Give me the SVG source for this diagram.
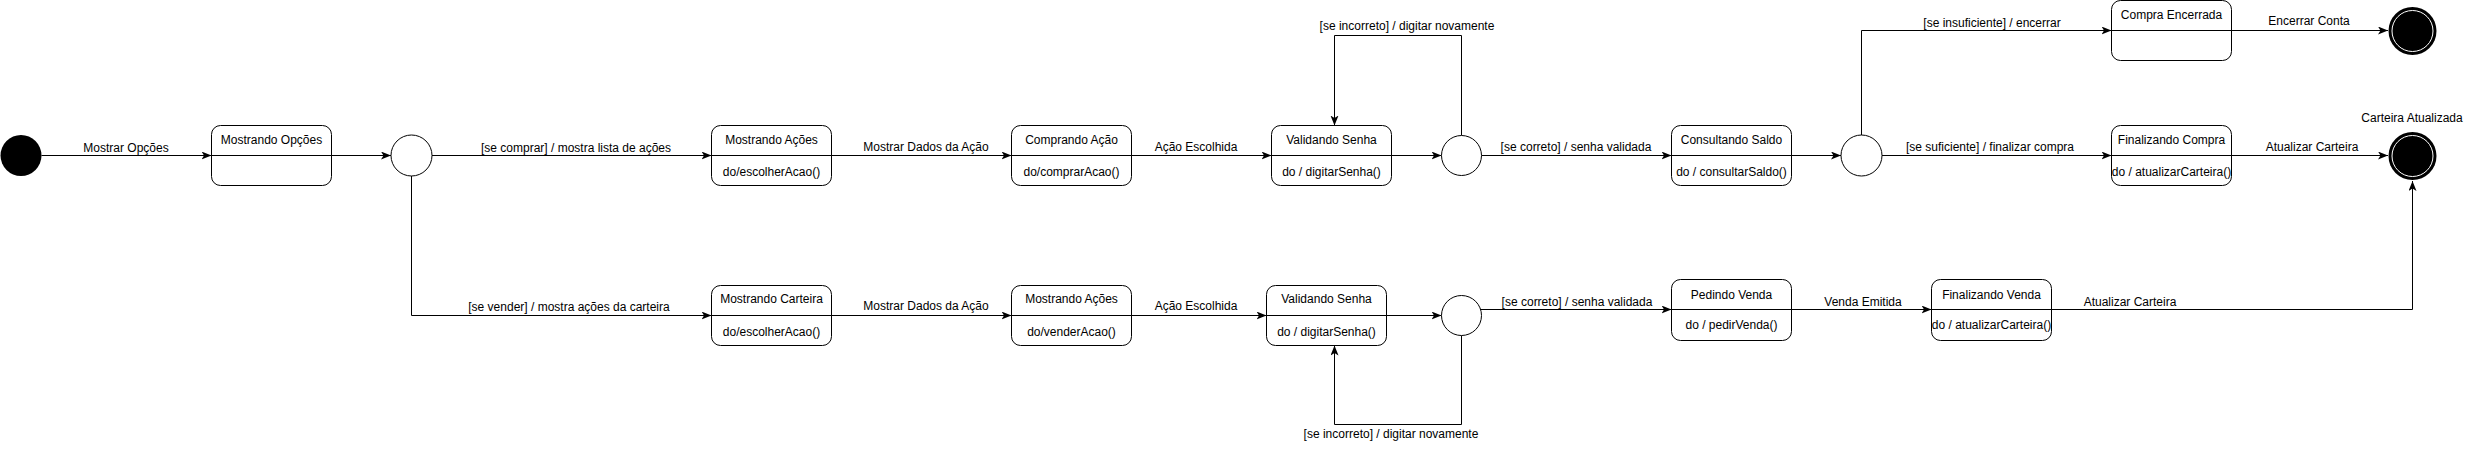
<svg xmlns="http://www.w3.org/2000/svg" width="2479" height="450" viewBox="0 0 2479 450">
<style>
.st{fill:#fff;stroke:#000;stroke-width:1}
.dv{stroke:#000;stroke-width:1;fill:none}
.e{fill:none;stroke:#000;stroke-width:1;marker-end:url(#ar)}
text{font-family:"Liberation Sans",Arial,sans-serif;font-size:12px;fill:#000;text-anchor:middle}
.dc{fill:#fff;stroke:#000;stroke-width:1}
</style>
<defs>
<marker id="ar" markerUnits="userSpaceOnUse" markerWidth="12" markerHeight="10" refX="10" refY="4" orient="auto">
<path d="M0,0 L10,4 L0,8 L2.5,4 z" fill="#000"/>
</marker>
</defs>
<rect width="2479" height="450" fill="#fff"/>
<g id="connectors">
<path class="e" d="M41.5,155.5 H211.5"/>
<text x="126" y="152">Mostrar Opções</text>
<path class="e" d="M331.5,155.5 H391"/>
<path class="e" d="M432,155.5 H711.5"/>
<text x="576" y="152">[se comprar] / mostra lista de ações</text>
<path class="e" d="M411.5,176 V315.5 H711.5"/>
<text x="569" y="311">[se vender] / mostra ações da carteira</text>
<path class="e" d="M831.5,155.5 H1011.5"/>
<text x="926" y="151">Mostrar Dados da Ação</text>
<path class="e" d="M1131.5,155.5 H1271.5"/>
<text x="1196" y="151">Ação Escolhida</text>
<path class="e" d="M1391.5,155.5 H1441.5"/>
<path class="e" d="M1461.5,135.5 V35.5 H1334.5 V125.5"/>
<text x="1407" y="30">[se incorreto] / digitar novamente</text>
<path class="e" d="M1481.5,155.5 H1671.5"/>
<text x="1576" y="151">[se correto] / senha validada</text>
<path class="e" d="M1791.5,155.5 H1841"/>
<path class="e" d="M1861.5,135 V30.5 H2111.5"/>
<text x="1992" y="27">[se insuficiente] / encerrar</text>
<path class="e" d="M1882,155.5 H2111.5"/>
<text x="1990" y="151">[se suficiente] / finalizar compra</text>
<path class="e" d="M2231.5,30.5 H2388"/>
<text x="2309" y="25">Encerrar Conta</text>
<path class="e" d="M2231.5,155.5 H2388"/>
<text x="2312" y="151">Atualizar Carteira</text>
<path class="e" d="M831.5,315.5 H1011.5"/>
<text x="926" y="310">Mostrar Dados da Ação</text>
<path class="e" d="M1131.5,315.5 H1266.5"/>
<text x="1196" y="310">Ação Escolhida</text>
<path class="e" d="M1386.5,315.5 H1441.5"/>
<path class="e" d="M1461.5,335.5 V424.5 H1334.5 V345.5"/>
<text x="1391" y="438">[se incorreto] / digitar novamente</text>
<path class="e" d="M1481,309.5 H1671.5"/>
<text x="1577" y="306">[se correto] / senha validada</text>
<path class="e" d="M1791.5,309.5 H1931.5"/>
<text x="1863" y="306">Venda Emitida</text>
<path class="e" d="M2051.5,309.5 H2412.5 V181"/>
<text x="2130" y="306">Atualizar Carteira</text>
</g>
<g id="inicio"><circle cx="21" cy="155.5" r="20.5" fill="#000"/></g>
<g id="mostrandoOpcoes">
<rect class="st" x="211.5" y="125.5" width="120" height="60" rx="9"/>
<path class="dv" d="M211.5,155.5 H331.5"/>
<text x="271.5" y="144">Mostrando Opções</text>
</g>
<g id="decisao1"><circle class="dc" cx="411.5" cy="155.5" r="20.5"/></g>
<g id="mostrandoAcoes">
<rect class="st" x="711.5" y="125.5" width="120" height="60" rx="9"/>
<path class="dv" d="M711.5,155.5 H831.5"/>
<text x="771.5" y="144">Mostrando Ações</text>
<text x="771.5" y="176">do/escolherAcao()</text>
</g>
<g id="comprandoAcao">
<rect class="st" x="1011.5" y="125.5" width="120" height="60" rx="9"/>
<path class="dv" d="M1011.5,155.5 H1131.5"/>
<text x="1071.5" y="144">Comprando Ação</text>
<text x="1071.5" y="176">do/comprarAcao()</text>
</g>
<g id="validandoSenha1">
<rect class="st" x="1271.5" y="125.5" width="120" height="60" rx="9"/>
<path class="dv" d="M1271.5,155.5 H1391.5"/>
<text x="1331.5" y="144">Validando Senha</text>
<text x="1331.5" y="176">do / digitarSenha()</text>
</g>
<g id="decisao2"><circle class="dc" cx="1461.5" cy="155.5" r="20"/></g>
<g id="consultandoSaldo">
<rect class="st" x="1671.5" y="125.5" width="120" height="60" rx="9"/>
<path class="dv" d="M1671.5,155.5 H1791.5"/>
<text x="1731.5" y="144">Consultando Saldo</text>
<text x="1731.5" y="176">do / consultarSaldo()</text>
</g>
<g id="decisao3"><circle class="dc" cx="1861.5" cy="155.5" r="20.5"/></g>
<g id="compraEncerrada">
<rect class="st" x="2111.5" y="0.5" width="120" height="60" rx="9"/>
<path class="dv" d="M2111.5,30.5 H2231.5"/>
<text x="2171.5" y="19">Compra Encerrada</text>
</g>
<g id="finalizandoCompra">
<rect class="st" x="2111.5" y="125.5" width="120" height="60" rx="9"/>
<path class="dv" d="M2111.5,155.5 H2231.5"/>
<text x="2171.5" y="144">Finalizando Compra</text>
<text x="2171.5" y="176">do / atualizarCarteira()</text>
</g>
<g id="fim1">
<circle cx="2412.5" cy="31" r="24" fill="#000"/>
<circle cx="2412.5" cy="31" r="20.5" fill="#000" stroke="#fff" stroke-width="1"/>
</g>
<g id="fim2">
<circle cx="2412.5" cy="156" r="24" fill="#000"/>
<circle cx="2412.5" cy="156" r="20.5" fill="#000" stroke="#fff" stroke-width="1"/>
<text x="2412" y="122">Carteira Atualizada</text>
</g>
<g id="mostrandoCarteira">
<rect class="st" x="711.5" y="285.5" width="120" height="60" rx="9"/>
<path class="dv" d="M711.5,315.5 H831.5"/>
<text x="771.5" y="303">Mostrando Carteira</text>
<text x="771.5" y="336">do/escolherAcao()</text>
</g>
<g id="mostrandoAcoes2">
<rect class="st" x="1011.5" y="285.5" width="120" height="60" rx="9"/>
<path class="dv" d="M1011.5,315.5 H1131.5"/>
<text x="1071.5" y="303">Mostrando Ações</text>
<text x="1071.5" y="336">do/venderAcao()</text>
</g>
<g id="validandoSenha2">
<rect class="st" x="1266.5" y="285.5" width="120" height="60" rx="9"/>
<path class="dv" d="M1266.5,315.5 H1386.5"/>
<text x="1326.5" y="303">Validando Senha</text>
<text x="1326.5" y="336">do / digitarSenha()</text>
</g>
<g id="decisao4"><circle class="dc" cx="1461.5" cy="315.5" r="20"/></g>
<g id="pedindoVenda">
<rect class="st" x="1671.5" y="279.5" width="120" height="61" rx="9"/>
<path class="dv" d="M1671.5,309.5 H1791.5"/>
<text x="1731.5" y="299">Pedindo Venda</text>
<text x="1731.5" y="329">do / pedirVenda()</text>
</g>
<g id="finalizandoVenda">
<rect class="st" x="1931.5" y="279.5" width="120" height="61" rx="9"/>
<path class="dv" d="M1931.5,309.5 H2051.5"/>
<text x="1991.5" y="299">Finalizando Venda</text>
<text x="1991.5" y="329">do / atualizarCarteira()</text>
</g>
</svg>
